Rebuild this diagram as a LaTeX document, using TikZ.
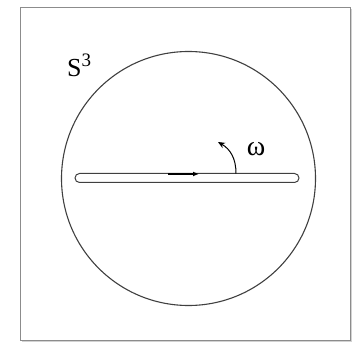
\documentclass[tikz,border=0pt]{standalone}
\usepackage{fontspec}
\setmainfont{Liberation Serif}
\usetikzlibrary{arrows.meta,shadows}
\begin{document}
\begin{tikzpicture}[x=1pt,y=-1pt,
  curve/.style={line width=1.1pt,draw=black!75},
  lbl/.style={font=\fontsize{26}{30}\selectfont,inner sep=0pt}]
\useasboundingbox (0,0) rectangle (358,344);
\fill[white] (0,0) rectangle (358,344);
\draw[draw=black!45,line width=0.8pt,fill=white,drop shadow={shadow xshift=2pt,shadow yshift=-2pt,opacity=0.35}] (20,7) rectangle (350,340);
\coordinate (c) at (188.5,178.5);
\draw[curve] (c) circle[radius=127];
\draw[curve,line width=1pt,rounded corners=4.5pt] (75,173.5) rectangle (299,182.5) coordinate (barend);
\coordinate (a0) at (168,174);
\coordinate (a1) at (199,174);
\draw[line width=1.8pt,-{Latex[length=6pt,width=5pt]}] (a0) -- (a1);
\coordinate (w0) at (236,173.5);
\coordinate (w1) at (218,142);
\draw[line width=1pt,-{Stealth[length=7pt,width=6pt]}] (w0) .. controls (236,158) and (230,149) .. (w1);
\node[lbl,font=\fontsize{28}{30}\selectfont] (om) at (256,149) {ω};
\node[lbl,anchor=base west] (s3) at (67,77) {S\raisebox{10pt}{\fontsize{19}{20}\selectfont 3}};
\end{tikzpicture}
\end{document}
